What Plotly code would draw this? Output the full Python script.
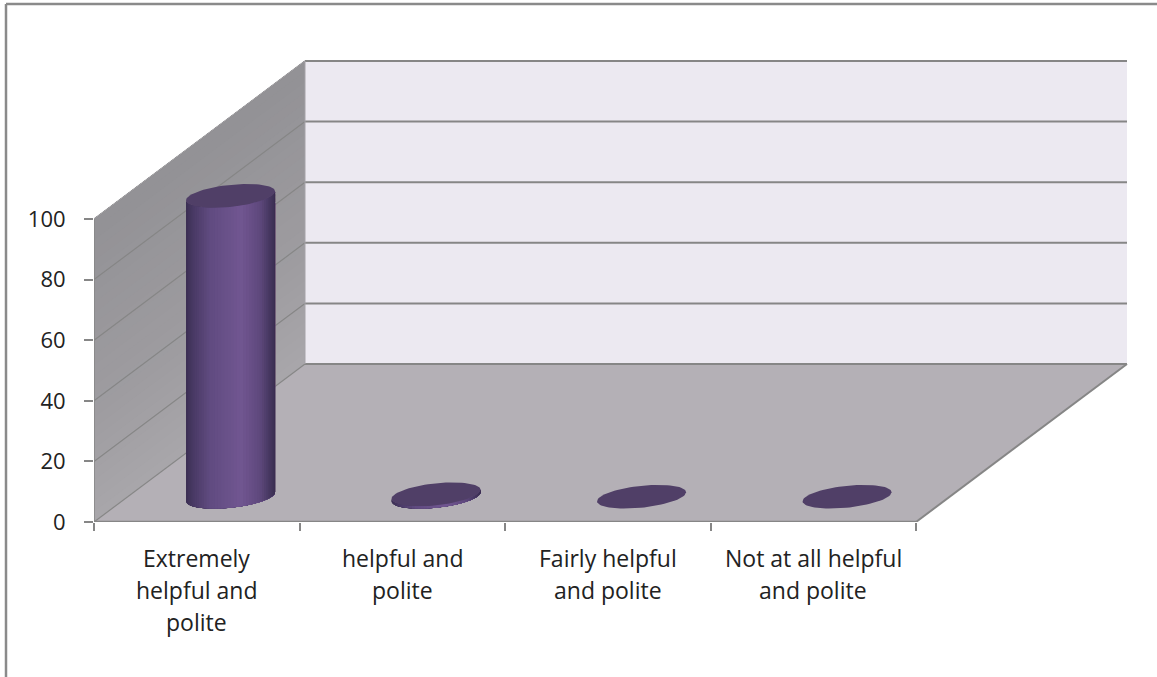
import numpy as np
import plotly.graph_objects as go

categories = ['Extremely helpful and polite', 'helpful and polite', 'Fairly helpful and polite',
              'Not at all helpful and polite']
category_lines = [['Extremely', 'helpful and', 'polite'], ['helpful and', 'polite'], ['Fairly helpful', 'and polite'],
                  ['Not at all helpful', 'and polite']]
values = [99.3, 0.8, 0, 0]
y_ticks = [0, 20, 40, 60, 80, 100]

PX_PER_CAT = 205.5
PX_PER_UNIT = 3.03
PLOT_W = 1034
PLOT_H = 462
DEPTH_X = 211 / PX_PER_CAT
DEPTH_Y = 158 / PX_PER_UNIT
BAR_DEPTH = 0.16
RX = 44.5 / PX_PER_CAT
RY = 11 / PX_PER_UNIT
SKEW = 4.5 / PX_PER_UNIT

GRID = '#868686'
n_cat = len(categories)
fig = go.Figure()


def poly(x, y, color):
    fig.add_trace(go.Scatter(x=x, y=y, mode='lines', fill='toself', fillcolor=color, line=dict(width=0),
                             hoverinfo='skip', showlegend=False))


def line(x, y, width=2, color=GRID):
    fig.add_trace(go.Scatter(x=x, y=y, mode='lines', line=dict(color=color, width=width), hoverinfo='skip',
                             showlegend=False, cliponaxis=False))


def blend(stops, u):
    pos = [s[0] for s in stops]
    chans = [np.interp(u, pos, [s[1][i] for s in stops]) for i in range(3)]
    return 'rgb({:.0f},{:.0f},{:.0f})'.format(*chans)


# back wall, floor
poly([DEPTH_X, DEPTH_X + n_cat, DEPTH_X + n_cat, DEPTH_X], [DEPTH_Y, DEPTH_Y, DEPTH_Y + 100, DEPTH_Y + 100], '#ece9f1')
poly([0, n_cat, DEPTH_X + n_cat, DEPTH_X], [0, 0, DEPTH_Y, DEPTH_Y], '#b4b0b6')

# side wall, darker towards the top
wall_stops = [(0, (168, 166, 170)), (0.35, (158, 156, 160)), (1, (146, 145, 149))]
for u in np.linspace(0, 1, 30):
    poly([0, DEPTH_X, DEPTH_X, 0], [100 * u, DEPTH_Y + 100 * u, DEPTH_Y + 100, 100], blend(wall_stops, u))

# grid lines
for v in y_ticks:
    line([0, DEPTH_X], [v, v + DEPTH_Y], 1.2)
    line([DEPTH_X, DEPTH_X + n_cat], [v + DEPTH_Y, v + DEPTH_Y])
line([DEPTH_X, DEPTH_X], [DEPTH_Y, DEPTH_Y + 100], 1, '#a5a3a8')
line([n_cat, n_cat + DEPTH_X], [0, DEPTH_Y])
line([0, 0], [0, 100], 1.5)
line([0, DEPTH_X], [100, 100 + DEPTH_Y], 1, '#a5a3a8')
line([0, n_cat], [0, 0], 2.5)

# cylinders
side_stops = [(0, (60, 48, 84)), (0.08, (74, 58, 102)), (0.25, (96, 75, 128)), (0.6, (113, 86, 145)),
              (0.82, (94, 72, 124)), (0.93, (70, 55, 96)), (1, (58, 46, 80))]
for i, v in enumerate(values):
    cx = i + 0.5 + DEPTH_X * BAR_DEPTH
    cy = DEPTH_Y * BAR_DEPTH
    if v > 0:
        for u in np.linspace(0, 1, 45)[:-1]:
            t = np.linspace(np.pi * (1 - u), 0, 24)
            ax = cx + RX * np.cos(t)
            low = cy - RY * np.sin(t) + SKEW * np.cos(t)
            poly(np.concatenate([ax, ax[::-1]]), np.concatenate([low, (low + v)[::-1]]),
                 blend(side_stops, (np.cos(t[0]) + 1) / 2))
    t = np.linspace(0, 2 * np.pi, 80)
    poly(cx + RX * np.cos(t), cy + v + RY * np.sin(t) + SKEW * np.cos(t), '#503f67')

# frame of the chart, only left and top are inside the picture
fx0, fy0 = (6 - 94) / PLOT_W, 1 + (60 - 4) / PLOT_H
shapes = [dict(type='line', xref='paper', yref='paper', x0=fx0, x1=fx0, y0=fy0, y1=-155 / PLOT_H,
               line=dict(color='#8a8a8a', width=2.5)),
          dict(type='line', xref='paper', yref='paper', x0=fx0, x1=1 + 29 / PLOT_W, y0=fy0, y1=fy0,
               line=dict(color='#8a8a8a', width=2.5))]

annotations = []
for i, lines in enumerate(category_lines):
    for j, text in enumerate(lines):
        annotations.append(dict(text=text, x=i + 0.5, xref='x', y=-(36 + 32 * j) / PLOT_H, yref='paper',
                                showarrow=False, yanchor='middle', font=dict(size=23, color='#222222')))

fig.update_layout(
    width=1157,
    height=677,
    margin=dict(l=94, r=29, t=60, b=155),
    paper_bgcolor='white',
    plot_bgcolor='white',
    font=dict(family='Open Sans, sans-serif', size=22, color='#222222'),
    showlegend=False,
    shapes=shapes,
    annotations=annotations,
    xaxis=dict(range=[0, PLOT_W / PX_PER_CAT], tickvals=list(range(n_cat + 1)), showticklabels=False, ticks='outside',
               ticklen=8, tickwidth=1.5, tickcolor=GRID, showgrid=False, zeroline=False, showline=False),
    yaxis=dict(range=[0, PLOT_H / PX_PER_UNIT], tickvals=y_ticks, ticks='outside', ticklen=9, tickwidth=1.5,
               tickcolor=GRID, showgrid=False, zeroline=False, showline=False, ticklabelstandoff=14),
)

# the page's default body margin would push the figure off its place
fig.write_html("out.html", config={'displayModeBar': False}, post_script="document.body.style.margin='0'")
